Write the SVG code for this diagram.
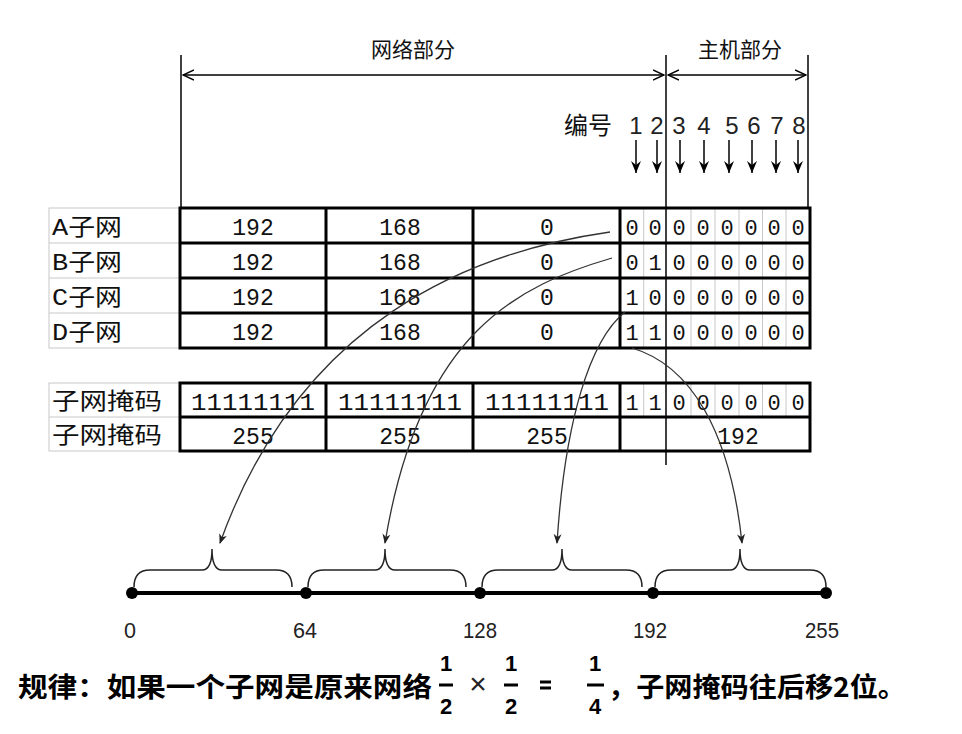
<svg xmlns="http://www.w3.org/2000/svg" width="962" height="734" viewBox="0 0 962 734">
<style>
.cjk{font-family:"Noto Sans CJK SC","Noto Sans",sans-serif;fill:#111}
.mono{font-family:"Liberation Mono","Noto Sans CJK SC",monospace;fill:#111}
.lbl{font-family:"Liberation Mono","Noto Sans CJK SC",monospace;font-size:23px;fill:#111}
.arial{font-family:"Liberation Sans",Arial,sans-serif;fill:#222}
.thick{stroke:#000;stroke-width:3;fill:none}
.thin{stroke:#000;stroke-width:1.5;fill:none}
.grey{stroke:#c8c8c8;stroke-width:1;fill:none}
.curve{stroke:#333;stroke-width:1.3;fill:none}
.brace{stroke:#222;stroke-width:1.5;fill:none}
.cell{font-size:23px;text-anchor:middle}
.bit{font-size:22px;text-anchor:middle}
.bold{font-weight:bold;fill:#000}
</style>
<defs>
<marker id="ah" viewBox="0 0 10 10" refX="9" refY="5" markerWidth="10" markerHeight="10" markerUnits="userSpaceOnUse" orient="auto">
<path d="M0,1 L10,5 L0,9 L3,5 Z" fill="#222"/>
</marker>
<marker id="dn" viewBox="0 0 10 12" refX="5" refY="12" markerWidth="10" markerHeight="12" markerUnits="userSpaceOnUse" orient="0">
<path d="M0,0 L5,12 L10,0 L5,4 Z" fill="#000"/>
</marker>
<marker id="open" viewBox="0 0 12 12" refX="11" refY="6" markerWidth="12" markerHeight="12" markerUnits="userSpaceOnUse" orient="auto-start-reverse">
<path d="M0,1 L11,6 L0,11" stroke="#000" stroke-width="1.5" fill="none"/>
</marker>
</defs>
<rect width="962" height="734" fill="#fff"/>

<g id="header">
<text class="cjk" x="413" y="57" font-size="21" text-anchor="middle">网络部分</text>
<text class="cjk" x="740" y="57" font-size="21" text-anchor="middle">主机部分</text>
<line class="thin" x1="181" y1="55" x2="181" y2="208"/>
<line class="thin" x1="808" y1="55" x2="808" y2="208"/>
<line class="thin" x1="666" y1="55" x2="666" y2="465"/>
<line class="thin" x1="183" y1="75" x2="664" y2="75" marker-start="url(#open)" marker-end="url(#open)"/>
<line class="thin" x1="668" y1="75" x2="806" y2="75" marker-start="url(#open)" marker-end="url(#open)"/>
</g>

<g id="numbering">
<text class="cjk" x="564" y="134" font-size="24">编号</text>
<g class="arial" font-size="24" text-anchor="middle" fill="#111">
<text x="636" y="134">1</text><text x="657" y="134">2</text><text x="679" y="134">3</text><text x="704" y="134">4</text>
<text x="732" y="134">5</text><text x="754" y="134">6</text><text x="777" y="134">7</text><text x="799" y="134">8</text>
</g>
<g stroke="#000" stroke-width="1.5" marker-end="url(#dn)">
<line x1="636" y1="140" x2="636" y2="173"/><line x1="657" y1="140" x2="657" y2="173"/>
<line x1="680" y1="140" x2="680" y2="173"/><line x1="704" y1="140" x2="704" y2="173"/>
<line x1="729" y1="140" x2="729" y2="173"/><line x1="752" y1="140" x2="752" y2="173"/>
<line x1="776" y1="140" x2="776" y2="173"/><line x1="798" y1="140" x2="798" y2="173"/>
</g>
</g>

<g id="subnet-table">
<rect class="grey" x="49" y="208" width="131" height="140"/>
<line class="grey" x1="49" y1="243" x2="180" y2="243"/>
<line class="grey" x1="49" y1="278" x2="180" y2="278"/>
<line class="grey" x1="49" y1="313" x2="180" y2="313"/>
<text class="lbl" x="52" y="235" textLength="70" lengthAdjust="spacingAndGlyphs">A子网</text>
<text class="lbl" x="52" y="270" textLength="70" lengthAdjust="spacingAndGlyphs">B子网</text>
<text class="lbl" x="52" y="305" textLength="70" lengthAdjust="spacingAndGlyphs">C子网</text>
<text class="lbl" x="52" y="340" textLength="70" lengthAdjust="spacingAndGlyphs">D子网</text>
<g class="grey">
<line x1="643.7" y1="208" x2="643.7" y2="348"/>
<line x1="691" y1="208" x2="691" y2="348"/><line x1="715" y1="208" x2="715" y2="348"/>
<line x1="739" y1="208" x2="739" y2="348"/><line x1="762.5" y1="208" x2="762.5" y2="348"/>
<line x1="786" y1="208" x2="786" y2="348"/>
</g>
<rect class="thick" x="180" y="208" width="630" height="140"/>
<line class="thick" x1="180" y1="243" x2="810" y2="243"/>
<line class="thick" x1="180" y1="278" x2="810" y2="278"/>
<line class="thick" x1="180" y1="313" x2="810" y2="313"/>
<line class="thick" x1="326" y1="208" x2="326" y2="348"/>
<line class="thick" x1="473" y1="208" x2="473" y2="348"/>
<line class="thick" x1="620" y1="208" x2="620" y2="348"/>
<g class="mono cell">
<text x="253" y="235">192</text><text x="400" y="235">168</text><text x="547" y="235">0</text>
<text x="253" y="270">192</text><text x="400" y="270">168</text><text x="547" y="270">0</text>
<text x="253" y="305">192</text><text x="400" y="305">168</text><text x="547" y="305">0</text>
<text x="253" y="340">192</text><text x="400" y="340">168</text><text x="547" y="340">0</text>
</g>
<g class="mono bit">
<text x="632" y="235">0</text><text x="655" y="235">0</text><text x="679" y="235">0</text><text x="703" y="235">0</text><text x="727" y="235">0</text><text x="751" y="235">0</text><text x="774" y="235">0</text><text x="798" y="235">0</text>
<text x="632" y="270">0</text><text x="655" y="270">1</text><text x="679" y="270">0</text><text x="703" y="270">0</text><text x="727" y="270">0</text><text x="751" y="270">0</text><text x="774" y="270">0</text><text x="798" y="270">0</text>
<text x="632" y="305">1</text><text x="655" y="305">0</text><text x="679" y="305">0</text><text x="703" y="305">0</text><text x="727" y="305">0</text><text x="751" y="305">0</text><text x="774" y="305">0</text><text x="798" y="305">0</text>
<text x="632" y="340">1</text><text x="655" y="340">1</text><text x="679" y="340">0</text><text x="703" y="340">0</text><text x="727" y="340">0</text><text x="751" y="340">0</text><text x="774" y="340">0</text><text x="798" y="340">0</text>
</g>
</g>

<g id="mask-table">
<rect class="grey" x="49" y="383" width="131" height="68"/>
<line class="grey" x1="49" y1="417" x2="180" y2="417"/>
<text class="cjk" x="52" y="409" font-size="23" textLength="110" lengthAdjust="spacingAndGlyphs">子网掩码</text>
<text class="cjk" x="52" y="443" font-size="23" textLength="110" lengthAdjust="spacingAndGlyphs">子网掩码</text>
<g class="grey">
<line x1="643.7" y1="383" x2="643.7" y2="417"/>
<line x1="691" y1="383" x2="691" y2="417"/><line x1="715" y1="383" x2="715" y2="417"/>
<line x1="739" y1="383" x2="739" y2="417"/><line x1="762.5" y1="383" x2="762.5" y2="417"/>
<line x1="786" y1="383" x2="786" y2="417"/>
</g>
<rect class="thick" x="180" y="383" width="630" height="68"/>
<line class="thick" x1="180" y1="417" x2="810" y2="417"/>
<line class="thick" x1="326" y1="383" x2="326" y2="451"/>
<line class="thick" x1="473" y1="383" x2="473" y2="451"/>
<line class="thick" x1="620" y1="383" x2="620" y2="451"/>
<g class="mono cell">
<text x="253" y="410" textLength="124" lengthAdjust="spacingAndGlyphs">11111111</text>
<text x="400" y="410" textLength="124" lengthAdjust="spacingAndGlyphs">11111111</text>
<text x="547" y="410" textLength="124" lengthAdjust="spacingAndGlyphs">11111111</text>
<text x="253" y="444">255</text><text x="400" y="444">255</text><text x="547" y="444">255</text>
<text x="738" y="444">192</text>
</g>
<g class="mono bit">
<text x="632" y="410">1</text><text x="655" y="410">1</text><text x="679" y="410">0</text><text x="703" y="410">0</text><text x="727" y="410">0</text><text x="751" y="410">0</text><text x="774" y="410">0</text><text x="798" y="410">0</text>
</g>
</g>

<g id="connectors">
<path class="curve" d="M610,232 C470,252 300,320 220,543" marker-end="url(#ah)"/>
<path class="curve" d="M612,258 C520,285 420,330 385,543" marker-end="url(#ah)"/>
<path class="curve" d="M625,312 C590,340 565,420 557,543" marker-end="url(#ah)"/>
<path class="curve" d="M632,348 C690,365 730,430 742,543" marker-end="url(#ah)"/>
</g>

<g id="number-line">
<line x1="132" y1="593" x2="826" y2="593" stroke="#000" stroke-width="4"/>
<g fill="#000">
<circle cx="132" cy="593" r="6"/><circle cx="306" cy="593" r="6"/><circle cx="480" cy="593" r="6"/><circle cx="653" cy="593" r="6"/><circle cx="826" cy="593" r="6"/>
</g>
<path class="brace" d="M134,587 Q134,570 150,570 L202,570 Q212,570 212,549 Q212,570 222,570 L276,570 Q292,570 292,587"/>
<path class="brace" d="M308,587 Q308,570 324,570 L375,570 Q385,570 385,549 Q385,570 395,570 L450,570 Q466,570 466,587"/>
<path class="brace" d="M482,587 Q482,570 498,570 L552,570 Q562,570 562,549 Q562,570 572,570 L626,570 Q642,570 642,587"/>
<path class="brace" d="M655,587 Q655,570 671,570 L730,570 Q740,570 740,549 Q740,570 750,570 L810,570 Q826,570 826,587"/>
<g class="arial" font-size="22" text-anchor="middle">
<text x="130" y="638" textLength="12" lengthAdjust="spacingAndGlyphs">0</text>
<text x="305" y="638" textLength="24" lengthAdjust="spacingAndGlyphs">64</text>
<text x="480" y="638" textLength="34" lengthAdjust="spacingAndGlyphs">128</text>
<text x="650" y="638" textLength="34" lengthAdjust="spacingAndGlyphs">192</text>
<text x="822" y="638" textLength="34" lengthAdjust="spacingAndGlyphs">255</text>
</g>
</g>

<g id="rule-text">
<text class="cjk bold" x="18" y="697" font-size="27" textLength="414" lengthAdjust="spacingAndGlyphs">规律：如果一个子网是原来网络</text>
<g class="arial bold" font-size="22" text-anchor="middle" fill="#000">
<text x="446" y="671">1</text><text x="446" y="714">2</text>
<text x="511" y="671">1</text><text x="511" y="714">2</text>
<text x="595" y="671">1</text><text x="595" y="714">4</text>
</g>
<g stroke="#000" stroke-width="3">
<line x1="439" y1="685" x2="453" y2="685"/>
<line x1="504" y1="685" x2="518" y2="685"/>
<line x1="587" y1="685" x2="604" y2="685"/>
<line x1="540" y1="682" x2="551" y2="682"/>
<line x1="540" y1="688" x2="551" y2="688"/>
</g>
<text class="arial" x="478" y="694" font-size="30" text-anchor="middle" fill="#666">×</text>
<text class="cjk bold" x="608" y="697" font-size="27" textLength="298" lengthAdjust="spacingAndGlyphs">，子网掩码往后移2位。</text>
</g>
</svg>
